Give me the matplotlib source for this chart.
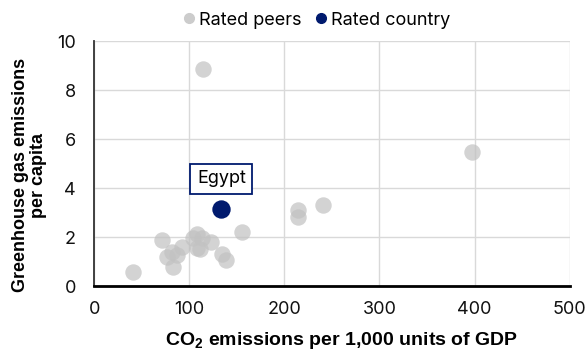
import matplotlib.pyplot as plt
from matplotlib.lines import Line2D

plt.rcParams['font.family'] = ['Inter', 'DejaVu Sans']
plt.rcParams['mathtext.fontset'] = 'custom'
plt.rcParams['mathtext.rm'] = 'Liberation Sans'
plt.rcParams['mathtext.bf'] = 'Liberation Sans:bold'

# Rated peers (CO2 per 1,000 GDP, GHG per capita)
peer_x = [114, 397, 214.6, 214.6, 241, 155.5, 71.4, 104, 108.5, 113, 122.5,
          92, 81.6, 86.8, 77, 82.6, 107.8, 111.3, 134, 138.7, 40.6]
peer_y = [8.84, 5.46, 3.09, 2.83, 3.32, 2.22, 1.88, 1.95, 2.11, 1.95, 1.81,
          1.61, 1.40, 1.27, 1.17, 0.79, 1.54, 1.50, 1.31, 1.06, 0.56]

# Rated country
country_name = "Egypt"
country_x = [133.8]
country_y = [3.14]

x_ticks = [0, 100, 200, 300, 400, 500]
y_ticks = [0, 2, 4, 6, 8, 10]

navy = '#001a6e'
grey = '#c2c2c2'

fig = plt.figure(figsize=(5.88, 3.51), dpi=100)
ax = fig.add_axes([0.160, 0.185, 0.809, 0.698])

ax.scatter(peer_x, peer_y, s=140, color=grey, alpha=0.72, linewidths=0, zorder=3)
ax.scatter(country_x, country_y, s=175, color=navy, linewidths=0, zorder=4)

ax.annotate(country_name, (country_x[0], country_y[0]), xytext=(0, 22),
            textcoords='offset points', ha='center', va='center', fontsize=13,
            color='black',
            bbox=dict(boxstyle='square,pad=0.36', facecolor='white',
                      edgecolor=navy, linewidth=1.3), zorder=5)

ax.set_xlim(0, 500)
ax.set_ylim(0, 10)
ax.set_xticks(x_ticks)
ax.set_yticks(y_ticks)
ax.tick_params(length=0, labelsize=13, colors='#111111')
ax.tick_params(axis='x', pad=11)
ax.tick_params(axis='y', pad=13)
ax.grid(True, color='#d9d9d9', linewidth=1)
ax.set_axisbelow(True)

for s in ['top', 'right']:
    ax.spines[s].set_visible(False)
ax.spines['bottom'].set_linewidth(2)
ax.spines['bottom'].set_color('black')
ax.spines['left'].set_linewidth(1.3)
ax.spines['left'].set_color('#333333')

label_font = dict(family='Liberation Sans', fontweight='bold')
ax.set_xlabel(r"CO$_\mathbf{2}$ emissions per 1,000 units of GDP",
              fontsize=14, **label_font)
ax.set_ylabel("Greenhouse gas emissions\nper capita",
              linespacing=1.12, fontsize=13, **label_font)
ax.xaxis.set_label_coords(0.521, -0.18)
ax.yaxis.set_label_coords(-0.098, 0.453)

handles = [
    Line2D([], [], marker='o', linestyle='', markersize=7, color='#cccccc'),
    Line2D([], [], marker='o', linestyle='', markersize=7, color=navy),
]
fig.legend(handles, ["Rated peers", "Rated country"], loc='center',
           bbox_to_anchor=(0.535, 0.943), ncol=2, frameon=False, fontsize=13,
           handletextpad=0.0, columnspacing=0.5, handlelength=1.1)

fig.savefig('out.png', dpi=100)
